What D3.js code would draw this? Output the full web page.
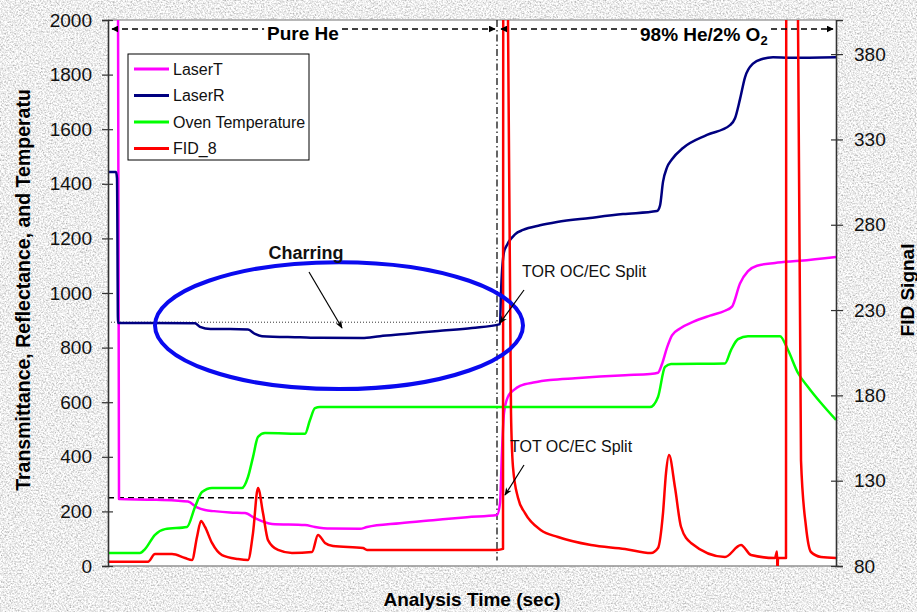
<!DOCTYPE html>
<html><head><meta charset="utf-8">
<script src="https://cdn.jsdelivr.net/npm/d3@7"></script>
<style>body{margin:0;overflow:hidden;background:#d8d8d8}svg{display:block;font-family:"Liberation Sans",Arial,sans-serif}</style>
</head><body><svg id="c" width="917" height="612"></svg>
<script>
// ---------- data ----------
const seriesNames  = ["LaserT","LaserR","Oven Temperature","FID_8"];
const seriesColors = ["#ff00ff","#000080","#00ff00","#ff0000"];
const leftTicks  = [0,200,400,600,800,1000,1200,1400,1600,1800,2000];
const rightTicks = [80,130,180,230,280,330,380];

const laserT_t = [20,22,84,134,160,178,194,212,244,274,294,328,394,414,444,504,518,584,650,718,778,784,788,792,800,812,824,854,884,934,984,1034,1084,1100,1108,1118,1128,1144,1170,1204,1234,1248,1264,1280,1298,1334,1384,1456];
const laserT_v = [2100,245,243,240,236,215,205,201,196,194,175,154,150,143,137,136,143,157,168,179,187,230,420,560,620,645,660,673,681,688,694,699,703,708,740,800,845,870,894,917,935,950,1035,1080,1100,1110,1118,1132];

const laserR_t = [0,16,18,20,84,174,184,205,244,280,294,308,384,424,508,544,594,660,728,784,786,792,798,814,830,864,898,964,1030,1098,1104,1110,1118,1128,1150,1198,1244,1254,1264,1274,1290,1310,1330,1364,1456];
const laserR_v = [1443,1443,1420,890,890,889,876,868,868,866,850,842,838,836,835,842,850,861,872,886,1000,1150,1176,1215,1231,1248,1260,1275,1289,1300,1320,1407,1460,1490,1531,1579,1615,1640,1710,1790,1840,1858,1864,1862,1864];

const oven_t = [0,64,74,94,114,158,174,188,208,268,280,290,300,314,394,404,414,424,1084,1100,1114,1126,1234,1246,1260,1280,1344,1360,1380,1400,1426,1456];
const oven_v = [48,48,62,114,135,143,216,271,286,286,326,399,473,487,484,535,578,582,582,619,729,740,742,791,831,842,842,791,707,656,597,535];

const fid_t = [0,80,94,128,154,168,178,186,194,208,228,260,280,290,300,310,320,340,368,408,420,434,450,510,518,778,790,792,796,800,806,810,820,834,866,900,966,1034,1086,1100,1110,1116,1122,1134,1146,1166,1234,1266,1286,1334,1338,1339,1340,1356,1358,1378,1380,1386,1396,1406,1426,1456];
const fid_v = [82.5,82.5,87,87,84.7,83.5,97,106.4,102.9,93.5,86.4,84.1,83.5,99.3,125.7,111,95.2,89.4,87.6,88.2,98.2,93.5,91.7,90.5,89.4,89.4,90,1500,1500,400,170,138,120,111,101,97,92.3,90,87.6,90.5,111,134.5,145,126,103,93.5,85.3,92.3,86.4,84.7,88.5,76,84.7,84.7,1500,1500,400,142,103,88.2,85.3,84.7];

// annotation values (time in s, left-axis units)
const splitTime = 778;
const torLevel = 893, totLevel = 250;
const regionLabels = ["Pure He", "98% He/2% O"];
const regionSpans = [[8,774],[786,1450]];
const regionLevel = 1967;
const ellipseBox = [94, 830, 648, 1113]; // t0,t1,vLow,vHigh
const notes = [
  {text:"Charring", t:396, v:1125, bold:true, size:18, anchor:"middle", from:[402,1077], to:[468,872]},
  {text:"TOR OC/EC Split", t:828, v:1059, bold:false, size:16, anchor:"start", from:[832,1011], to:[784,890]},
  {text:"TOT OC/EC Split", t:804, v:419, bold:false, size:16, anchor:"start", from:[832,370], to:[794,260]}
];

// ---------- drawing ----------
const W=917,H=612, M={l:108,r:836,t:20,b:566};
const svg=d3.select("#c");
const defs=svg.append("defs");
const f=defs.append("filter").attr("id","marble").attr("x",0).attr("y",0).attr("width","100%").attr("height","100%");
f.append("feTurbulence").attr("type","fractalNoise").attr("baseFrequency","0.6").attr("numOctaves",4).attr("seed",7);
f.append("feColorMatrix").attr("type","matrix").attr("values","1.1 0 0 0 0.3  1.1 0 0 0 0.3  1.1 0 0 0 0.3  0 0 0 0 1");
defs.append("clipPath").attr("id","clip").append("rect").attr("x",M.l).attr("y",M.t).attr("width",M.r-M.l).attr("height",M.b-M.t);
defs.append("marker").attr("id","ah").attr("viewBox","0 0 10 10").attr("refX",9).attr("refY",5)
  .attr("markerWidth",7).attr("markerHeight",7).attr("orient","auto-start-reverse").attr("markerUnits","userSpaceOnUse")
  .append("path").attr("d","M0,0L10,5L0,10z").attr("fill","#000");
defs.append("marker").attr("id","ah2").attr("viewBox","0 0 10 10").attr("refX",9).attr("refY",5)
  .attr("markerWidth",8).attr("markerHeight",8).attr("orient","auto").attr("markerUnits","userSpaceOnUse")
  .append("path").attr("d","M0,1L10,5L0,9L3,5z").attr("fill","#000");

svg.append("rect").attr("width",W).attr("height",H).attr("fill","#d8d8d8");
svg.append("rect").attr("width",W).attr("height",H).attr("filter","url(#marble)");

const x=d3.scaleLinear().domain([0,1456]).range([M.l,M.r]);
const yL=d3.scaleLinear().domain([0,2000]).range([M.b,M.t]);
const yR=d3.scaleLinear().domain([80,400]).range([M.b,M.t]);

svg.append("rect").attr("x",M.l).attr("y",M.t).attr("width",M.r-M.l).attr("height",M.b-M.t).attr("fill","#fff");
svg.append("line").attr("x1",M.l).attr("x2",M.r).attr("y1",M.t).attr("y2",M.t).attr("stroke","#a0a0a0").attr("stroke-width",1.5);
svg.append("line").attr("x1",M.l).attr("x2",M.r).attr("y1",M.b).attr("y2",M.b).attr("stroke","#909090").attr("stroke-width",1.5);

const plot=svg.append("g").attr("clip-path","url(#clip)");

// reference lines
plot.append("line").attr("x1",x(0)).attr("x2",x(splitTime)).attr("y1",yL(torLevel)).attr("y2",yL(torLevel))
  .attr("stroke","#333").attr("stroke-width",1).attr("stroke-dasharray","1,2");
plot.append("line").attr("x1",x(0)).attr("x2",x(splitTime)).attr("y1",yL(totLevel)).attr("y2",yL(totLevel))
  .attr("stroke","#000").attr("stroke-width",1.3).attr("stroke-dasharray","6,4");
plot.append("line").attr("x1",x(splitTime)).attr("x2",x(splitTime)).attr("y1",M.t).attr("y2",yL(20))
  .attr("stroke","#000").attr("stroke-width",1.2).attr("stroke-dasharray","7,3,1.5,3");

const ts=[laserT_t,laserR_t,oven_t,fid_t], vs=[laserT_v,laserR_v,oven_v,fid_v], ys=[yL,yL,yL,yR];
[0,1,2,3].forEach(i=>{
  const data=ts[i].map((t,k)=>[t,vs[i][k]]);
  const lg=d3.line().x(d=>x(d[0])).y(d=>ys[i](d[1])).curve(d3.curveMonotoneX);
  plot.append("path").datum(data).attr("d",lg).attr("fill","none").attr("stroke",seriesColors[i])
    .attr("stroke-width",2.5).attr("stroke-linejoin","round");
});

// ellipse
const [e0,e1,eLo,eHi]=ellipseBox;
plot.append("ellipse").attr("cx",(x(e0)+x(e1))/2).attr("cy",(yL(eLo)+yL(eHi))/2)
  .attr("rx",(x(e1)-x(e0))/2).attr("ry",(yL(eLo)-yL(eHi))/2)
  .attr("fill","none").attr("stroke","#0a0aef").attr("stroke-width",4);

// notes
notes.forEach(n=>{
  svg.append("text").attr("x",x(n.t)).attr("y",yL(n.v)).attr("text-anchor",n.anchor)
    .attr("font-size",n.size).attr("font-weight",n.bold?"bold":"normal").attr("fill","#111").text(n.text);
  svg.append("line").attr("x1",x(n.from[0])).attr("y1",yL(n.from[1])).attr("x2",x(n.to[0])).attr("y2",yL(n.to[1]))
    .attr("stroke","#000").attr("stroke-width",1.2).attr("marker-end","url(#ah2)");
});

// region arrows and labels
regionSpans.forEach(s=>{
  svg.append("line").attr("x1",x(s[0])).attr("x2",x(s[1])).attr("y1",yL(regionLevel)).attr("y2",yL(regionLevel))
    .attr("stroke","#000").attr("stroke-width",1.4).attr("stroke-dasharray","6,4")
    .attr("marker-start","url(#ah)").attr("marker-end","url(#ah)");
});
const pg=svg.append("g");
const pt=pg.append("text").attr("x",x(390)).attr("y",40).attr("text-anchor","middle").attr("font-size",19).attr("font-weight","bold").text(regionLabels[0]);
let bb=pt.node().getBBox();
pg.insert("rect","text").attr("x",bb.x-3).attr("y",bb.y).attr("width",bb.width+6).attr("height",bb.height).attr("fill","#fff");
const og=svg.append("g");
const ot=og.append("text").attr("x",x(1064)).attr("y",41).attr("font-size",19).attr("font-weight","bold");
ot.append("tspan").text(regionLabels[1]);
ot.append("tspan").attr("font-size",13).attr("dy",4).text("2");
bb=ot.node().getBBox();
og.insert("rect","text").attr("x",bb.x-3).attr("y",bb.y).attr("width",bb.width+6).attr("height",bb.height-3).attr("fill","#fff");

// axes
const ax=svg.append("g").attr("transform",`translate(${M.l},0)`)
  .call(d3.axisLeft(yL).tickValues(leftTicks).tickSize(6).tickPadding(10).tickFormat(d3.format("d")));
ax.selectAll(".tick line").attr("x1",5).attr("x2",-6);
const ar=svg.append("g").attr("transform",`translate(${M.r},0)`)
  .call(d3.axisRight(yR).tickValues(rightTicks).tickSize(7).tickPadding(11));
ar.selectAll(".tick line").attr("x1",-5).attr("x2",7);
[ax,ar].forEach(a=>{
  a.select(".domain").attr("stroke","#333").attr("stroke-width",1.6);
  a.selectAll(".tick line").attr("stroke","#333").attr("stroke-width",1.2);
  a.selectAll("text").attr("font-size",19).attr("font-family","Liberation Sans, Arial, sans-serif").attr("fill","#111");
});

// titles
svg.append("text").attr("transform","translate(30,290) rotate(-90)").attr("text-anchor","middle")
  .attr("font-size",19.5).attr("font-weight","bold").text("Transmittance, Reflectance, and Temperatu");
svg.append("text").attr("transform","translate(914,290) rotate(-90)").attr("text-anchor","middle")
  .attr("font-size",19).attr("font-weight","bold").text("FID Signal");
svg.append("text").attr("x",472).attr("y",606).attr("text-anchor","middle")
  .attr("font-size",19).attr("font-weight","bold").text("Analysis Time (sec)");

// legend
const lg=svg.append("g");
lg.append("rect").attr("x",128).attr("y",54).attr("width",181).attr("height",106).attr("fill","#fff").attr("stroke","#000").attr("stroke-width",1);
seriesNames.forEach((n,i)=>{
  const yy=69+i*26.5;
  lg.append("line").attr("x1",134).attr("x2",169).attr("y1",yy).attr("y2",yy).attr("stroke",seriesColors[i]).attr("stroke-width",3);
  lg.append("text").attr("x",173).attr("y",yy+5.5).attr("font-size",16).attr("fill","#111").text(n);
});
</script></body></html>
